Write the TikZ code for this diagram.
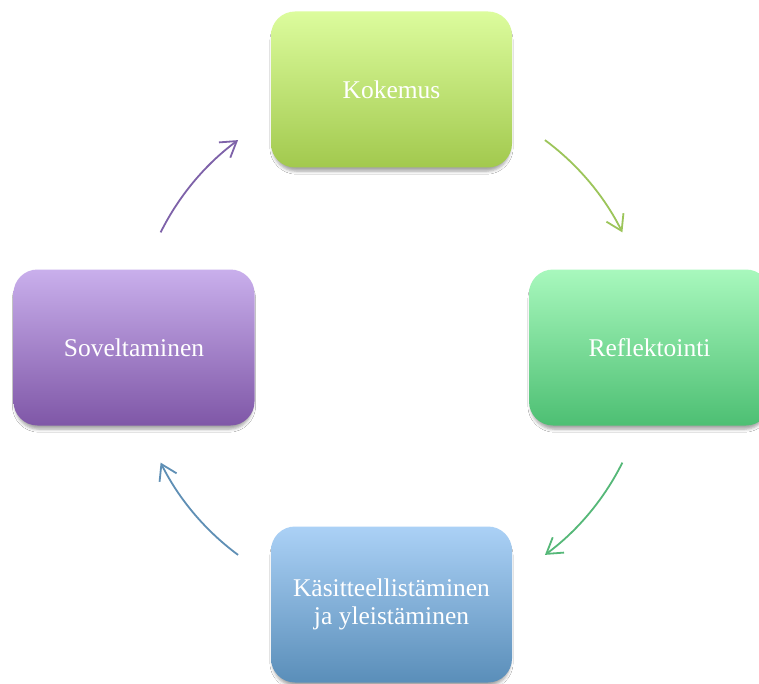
\documentclass[tikz,border=0pt]{standalone}
\usepackage{fontspec}
\setmainfont{Liberation Serif}
\usetikzlibrary{shadows.blur,arrows.meta}
\definecolor{kokTop}{HTML}{DCFC9D}
\definecolor{kokBot}{HTML}{A2C94E}
\definecolor{refTop}{HTML}{A8F8BD}
\definecolor{refBot}{HTML}{4DBF73}
\definecolor{kasTop}{HTML}{ABD1F6}
\definecolor{kasBot}{HTML}{5A8EB9}
\definecolor{sovTop}{HTML}{C9AFEC}
\definecolor{sovBot}{HTML}{7F57A7}
\definecolor{arrA}{HTML}{9CC55A}
\definecolor{arrB}{HTML}{55B878}
\definecolor{arrC}{HTML}{5F8FB5}
\definecolor{arrD}{HTML}{7E62A9}
\begin{document}
\begin{tikzpicture}[x=1pt,y=1pt,
  box/.style={rounded corners=24pt, minimum width=241pt, minimum height=156pt,
    inner sep=0pt, text=white, font=\fontsize{25.5}{27.5}\selectfont, align=center,
    blur shadow={shadow xshift=0pt, shadow yshift=-5pt, shadow scale=0.985, shadow blur radius=3pt, shadow blur extra rounding=0pt, shadow opacity=35}},
  cyc/.style={line width=1.8pt, -{Straight Barb[length=15pt,width=19pt]}}]
\useasboundingbox (0,0) rectangle (759,-684);
\clip (0,0) rectangle (759,-684);
\fill[white] (0,0) rectangle (759,-684);
\node[box, top color=kokTop, bottom color=kokBot] (kok) at (391.5,-89.5) {Kokemus};
\node[box, top color=refTop, bottom color=refBot] (ref) at (649.5,-347.5) {Reflektointi};
\node[box, top color=kasTop, bottom color=kasBot] (kas) at (391.5,-604.5) {Käsitteellistäminen\\ja yleistäminen};
\node[box, top color=sovTop, bottom color=sovBot] (sov) at (134,-347.5) {Soveltaminen};
\coordinate (c) at (391.5,-347.5);
\draw[cyc, arrA] ([shift={(53.5:258)}]c) arc[start angle=53.5, end angle=26.5, radius=258];
\draw[cyc, arrB] ([shift={(-26.5:258)}]c) arc[start angle=-26.5, end angle=-53.5, radius=258];
\draw[cyc, arrC] ([shift={(-126.5:258)}]c) arc[start angle=-126.5, end angle=-153.5, radius=258];
\draw[cyc, arrD] ([shift={(153.5:258)}]c) arc[start angle=153.5, end angle=126.5, radius=258];
\end{tikzpicture}
\end{document}
